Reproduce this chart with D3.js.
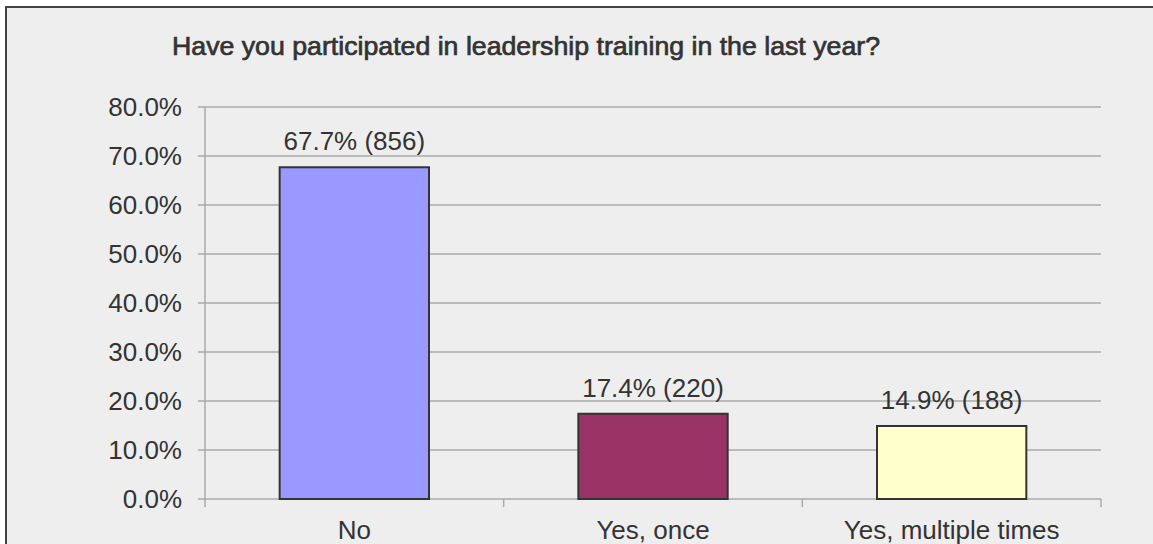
<!DOCTYPE html>
<html>
<head>
<meta charset="utf-8">
<script src="https://cdn.jsdelivr.net/npm/d3@7"></script>
<style>
  html, body { margin: 0; padding: 0; background: #ffffff; }
  svg { display: block; font-family: "Liberation Sans", Arial, sans-serif; }
</style>
</head>
<body>
<div id="chart"></div>
<script>
var title = "Have you participated in leadership training in the last year?";
var categories = ["No", "Yes, once", "Yes, multiple times"];
var percents = [67.7, 17.4, 14.9];
var counts = [856, 220, 188];
var barColors = ["#9999ff", "#993366", "#ffffcc"];
var yTicks = [0, 10, 20, 30, 40, 50, 60, 70, 80];

var W = 1153, H = 544;
var margin = {top: 107, right: 52, bottom: 45, left: 205};
var width = W - margin.left - margin.right;
var height = H - margin.top - margin.bottom;

var svg = d3.select("#chart").append("svg")
    .attr("width", W)
    .attr("height", H);

// panel background + frame (right and bottom edges run off the page)
svg.append("rect")
    .attr("x", 6).attr("y", 7)
    .attr("width", W + 10).attr("height", H + 10)
    .attr("fill", "#eeeeee")
    .attr("stroke", "#444")
    .attr("stroke-width", 2);

svg.append("text")
    .attr("x", 172).attr("y", 55)
    .attr("fill", "#333")
    .attr("stroke", "#333")
    .attr("stroke-width", 0.7)
    .attr("font-size", 26)
    .attr("textLength", 708)
    .attr("lengthAdjust", "spacingAndGlyphs")
    .text(title);

var g = svg.append("g")
    .attr("transform", "translate(" + margin.left + "," + margin.top + ")");

var x = d3.scaleBand().domain(categories).range([0, width])
    .paddingInner(0.5).paddingOuter(0.25);
var y = d3.scaleLinear().domain([0, 80]).range([height, 0]);

// gridlines
g.selectAll(".grid").data(yTicks).enter().append("line")
    .attr("x1", -7).attr("x2", width)
    .attr("y1", d => y(d)).attr("y2", d => y(d))
    .attr("stroke", "#aaaaaa")
    .attr("stroke-width", 1.5);

// y axis line
g.append("line")
    .attr("x1", 0).attr("x2", 0)
    .attr("y1", 0).attr("y2", height + 8)
    .attr("stroke", "#aaaaaa").attr("stroke-width", 1.5);

// category ticks at band boundaries
g.selectAll(".ctick").data(categories).enter().append("line")
    .attr("x1", (d, i) => x.step() * (i + 1))
    .attr("x2", (d, i) => x.step() * (i + 1))
    .attr("y1", height).attr("y2", height + 8)
    .attr("stroke", "#aaaaaa").attr("stroke-width", 1.5);

// y tick labels
g.selectAll(".ylab").data(yTicks).enter().append("text")
    .attr("x", -23).attr("y", d => y(d))
    .attr("dy", "0.35em")
    .attr("text-anchor", "end")
    .attr("fill", "#333")
    .attr("font-size", 26)
    .text(d => d.toFixed(1) + "%");

// bars
g.selectAll(".bar").data(categories).enter().append("rect")
    .attr("x", d => x(d))
    .attr("y", (d, i) => y(percents[i]))
    .attr("width", x.bandwidth())
    .attr("height", (d, i) => height - y(percents[i]))
    .attr("fill", (d, i) => barColors[i])
    .attr("stroke", "#333")
    .attr("stroke-width", 2);

// value labels
g.selectAll(".val").data(categories).enter().append("text")
    .attr("x", d => x(d) + x.bandwidth() / 2)
    .attr("y", (d, i) => y(percents[i]) - 17)
    .attr("text-anchor", "middle")
    .attr("fill", "#333")
    .attr("font-size", 26)
    .text((d, i) => percents[i].toFixed(1) + "% (" + counts[i] + ")");

// category labels
g.selectAll(".cat").data(categories).enter().append("text")
    .attr("x", d => x(d) + x.bandwidth() / 2)
    .attr("y", height + 40)
    .attr("text-anchor", "middle")
    .attr("fill", "#333")
    .attr("font-size", 26)
    .text(d => d);
</script>
</body>
</html>
